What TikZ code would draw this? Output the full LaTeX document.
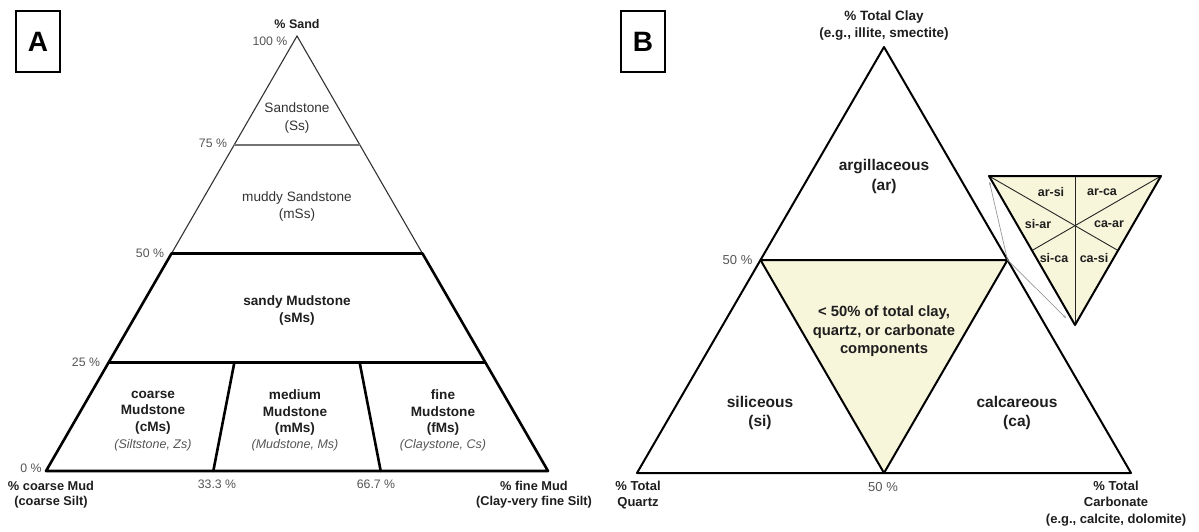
\documentclass[tikz,border=0pt]{standalone}
\usepackage{fontspec}
\setmainfont{Liberation Sans}
\usetikzlibrary{arrows.meta}
\definecolor{cream}{HTML}{F7F5DA}
\definecolor{txtdark}{HTML}{1E1E1E}
\definecolor{txtgrey}{HTML}{555555}
\definecolor{txtmid}{HTML}{333333}
\tikzset{
  thinln/.style={draw=txtmid, line width=1.1pt},
  greyln/.style={draw=black!55, line width=1.8pt},
  thickln/.style={draw=black, line width=2.6pt, line cap=round, line join=round},
  bthick/.style={draw=black, line width=2pt, line join=round},
  bthin/.style={draw=black!85, line width=0.9pt},
  pointer/.style={draw=black!40, line width=0.7pt, -{Stealth[length=3pt,width=2.5pt]}},
  pct/.style={text=txtgrey, font=\fontsize{12.3}{14}\selectfont, inner sep=0pt},
  boldlab/.style={text=txtdark, align=center, inner sep=0pt},
  reglab/.style={text=txtmid, align=center, inner sep=0pt},
  panelbox/.style={draw=black, line width=1.4pt, minimum width=44pt, minimum height=61pt, inner sep=0pt, font=\fontsize{28}{30}\selectfont\bfseries}
}
\begin{document}
\begin{tikzpicture}[x=1pt,y=-1pt]
\useasboundingbox (0,0) rectangle (1199,531);
% ---------------- Panel A ----------------
\node[panelbox] (boxA) at (38,41.5) {A};
\coordinate (Aap) at (297,36);
\coordinate (Abl) at (46,471);
\coordinate (Abr) at (548,471);
\coordinate (A75l) at (234,144.75);
\coordinate (A75r) at (360,144.75);
\coordinate (A50l) at (171.5,253.5);
\coordinate (A50r) at (422.5,253.5);
\coordinate (A25l) at (108.75,362.25);
\coordinate (A25r) at (485.25,362.25);
\coordinate (A25a) at (234.4,362.25);
\coordinate (A25b) at (359.6,362.25);
\coordinate (Ab1) at (213.3,471);
\coordinate (Ab2) at (380.7,471);
\draw[thinln] (A50l) -- (Aap) -- (A50r);
\draw[greyln] (A75l) -- (A75r);
\draw[thickln] (A50l) -- (A50r) -- (Abr) -- (Abl) -- cycle;
\draw[thickln] (A25l) -- (A25r);
\draw[thickln] (A25a) -- (Ab1);
\draw[thickln] (A25b) -- (Ab2);

\node[boldlab, font=\fontsize{12.5}{15}\selectfont\bfseries] (sand) at (297,24) {\% Sand};
\node[pct] (p100) at (270,41) {100 \%};
\node[pct] (p75) at (213,143) {75 \%};
\node[pct] (p50) at (150,253) {50 \%};
\node[pct] (p25) at (86,362) {25 \%};
\node[pct] (p0) at (31,468) {0 \%};
\node[pct] (p33) at (217,484) {33.3 \%};
\node[pct] (p67) at (376,484) {66.7 \%};
\node[boldlab, font=\fontsize{12.8}{15}\selectfont\bfseries] (cmud) at (51,494.5) {\% coarse Mud\\(coarse Silt)};
\node[boldlab, font=\fontsize{12.8}{15}\selectfont\bfseries] (fmud) at (534,494.5) {\% fine Mud\\(Clay-very fine Silt)};

\node[reglab, font=\fontsize{13.6}{18}\selectfont] (ss) at (297,118) {Sandstone\\(Ss)};
\node[reglab, font=\fontsize{13.6}{17.5}\selectfont] (mss) at (297,206.5) {muddy Sandstone\\(mSs)};
\node[boldlab, font=\fontsize{13.6}{17}\selectfont\bfseries] (sms) at (297,310.5) {sandy Mudstone\\(sMs)};
\node[boldlab, font=\fontsize{13.6}{16.5}\selectfont\bfseries] (cms) at (153,412.5) {coarse\\Mudstone\\(cMs)};
\node[boldlab, font=\fontsize{13.6}{16.5}\selectfont\bfseries] (mms) at (295,412.5) {medium\\Mudstone\\(mMs)};
\node[boldlab, font=\fontsize{13.6}{16.5}\selectfont\bfseries] (fms) at (443,412.5) {fine\\Mudstone\\(fMs)};
\node[reglab, text=txtgrey, font=\fontsize{12.5}{15}\selectfont\itshape] (zs) at (153,445) {(Siltstone, Zs)};
\node[reglab, text=txtgrey, font=\fontsize{12.5}{15}\selectfont\itshape] (ms) at (295,445) {(Mudstone, Ms)};
\node[reglab, text=txtgrey, font=\fontsize{12.5}{15}\selectfont\itshape] (cs) at (443,445) {(Claystone, Cs)};

% ---------------- Panel B ----------------
\node[panelbox] (boxB) at (643,41.5) {B};
\coordinate (Bap) at (884,47);
\coordinate (Bbl) at (637,473);
\coordinate (Bbr) at (1131,473);
\coordinate (B50l) at (760.5,260);
\coordinate (B50r) at (1007.5,260);
\coordinate (Bbm) at (884,473);
\fill[cream] (B50l) -- (B50r) -- (Bbm) -- cycle;
\draw[bthick] (Bap) -- (Bbr) -- (Bbl) -- cycle;
\draw[bthick] (B50l) -- (B50r) -- (Bbm) -- cycle;

% inset
\coordinate (Itl) at (989,176);
\coordinate (Itr) at (1161,176);
\coordinate (Iap) at (1075,325);
\coordinate (Itm) at (1075,176);
\coordinate (Iml) at (1032,250.5);
\coordinate (Imr) at (1118,250.5);
\fill[cream] (Itl) -- (Itr) -- (Iap) -- cycle;
\draw[bthin] (Itm) -- (Iap);
\draw[bthin] (Itl) -- (Imr);
\draw[bthin] (Itr) -- (Iml);
\draw[bthick] (Itl) -- (Itr) -- (Iap) -- cycle;
\coordinate (g1) at (989.5,182);
\coordinate (g2) at (1066,318);
\draw[pointer] (B50r) -- (g1);
\draw[pointer] (B50r) -- (g2);

\node[boldlab, font=\fontsize{13.5}{17}\selectfont\bfseries] (clay) at (884,25.5) {\% Total Clay\\(e.g., illite, smectite)};
\node[boldlab, font=\fontsize{15.5}{20}\selectfont\bfseries] (ar) at (884,176) {argillaceous\\(ar)};
\node[pct, font=\fontsize{13}{15}\selectfont] (b50a) at (737.5,260) {50 \%};
\node[boldlab, font=\fontsize{14.8}{18.5}\selectfont\bfseries] (mix) at (884,331.5) {< 50\% of total clay,\\quartz, or carbonate\\components};
\node[boldlab, font=\fontsize{15.5}{19}\selectfont\bfseries] (si) at (760,412.5) {siliceous\\(si)};
\node[boldlab, font=\fontsize{15.5}{19}\selectfont\bfseries] (ca) at (1017,412.5) {calcareous\\(ca)};
\node[boldlab, font=\fontsize{13}{16}\selectfont\bfseries] (qz) at (638,495) {\% Total\\Quartz};
\node[pct, font=\fontsize{13}{15}\selectfont] (b50b) at (883,487) {50 \%};
\node[boldlab, font=\fontsize{13}{16.5}\selectfont\bfseries] (carb) at (1116,503.5) {\% Total\\Carbonate\\(e.g., calcite, dolomite)};

\node[boldlab, font=\fontsize{12.5}{14}\selectfont\bfseries] (arsi) at (1051,192) {ar-si};
\node[boldlab, font=\fontsize{12.5}{14}\selectfont\bfseries] (arca) at (1102,192) {ar-ca};
\node[boldlab, font=\fontsize{12.5}{14}\selectfont\bfseries] (siar) at (1038,224) {si-ar};
\node[boldlab, font=\fontsize{12.5}{14}\selectfont\bfseries] (caar) at (1109,224) {ca-ar};
\node[boldlab, font=\fontsize{12.5}{14}\selectfont\bfseries] (sica) at (1054,258) {si-ca};
\node[boldlab, font=\fontsize{12.5}{14}\selectfont\bfseries] (casi) at (1094,258) {ca-si};
\end{tikzpicture}
\end{document}
